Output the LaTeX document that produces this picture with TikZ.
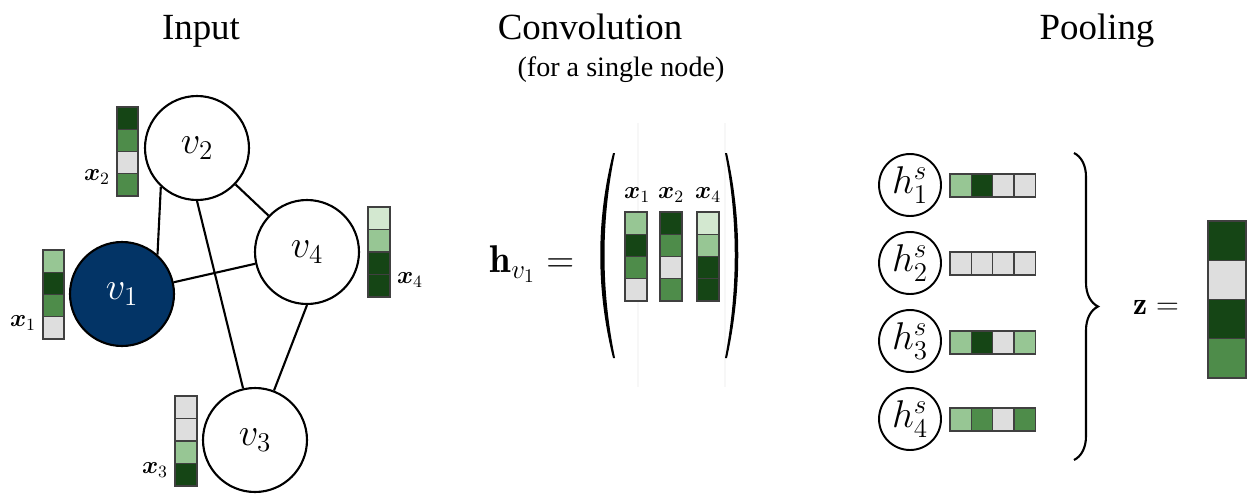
\RequirePackage{fix-cm}
\documentclass[tikz,border=0pt]{standalone}
\usepackage{amsmath}
\usepackage{fontspec}
\newfontfamily\titlefont{Liberation Serif}
\usetikzlibrary{decorations.pathreplacing}
\definecolor{dg}{HTML}{154515}
\definecolor{mg}{HTML}{4E8C4A}
\definecolor{lg}{HTML}{97C694}
\definecolor{vl}{HTML}{D3E8D0}
\definecolor{gr}{HTML}{DEDEDE}
\definecolor{navy}{HTML}{033466}
\newcommand\vvec[5]{%
  \foreach \c [count=\i from 0] in {#5} {
    \draw[cell, fill=\c] (#1,{#2+\i*#4}) rectangle ++(#3,#4);
  }}
\newcommand\hvec[5]{%
  \foreach \c [count=\i from 0] in {#5} {
    \draw[cell, fill=\c] ({#1+\i*#3},#2) rectangle ++(#3,#4);
  }}
\begin{document}
\begin{tikzpicture}[x=0.02cm,y=-0.02cm,
  cell/.style={draw=black!75, line width=0.8pt},
  vnode/.style={circle, draw, line width=1.2pt, minimum size=2.08cm, inner sep=0pt, font=\fontsize{22}{24}\selectfont},
  hnode/.style={circle, draw, line width=1.1pt, minimum size=1.24cm, inner sep=0pt, font=\fontsize{22}{24}\selectfont},
  edge/.style={line width=1.2pt},
  xlab/.style={inner sep=0pt, font=\fontsize{14}{16}\selectfont},
  title/.style={inner sep=0pt, anchor=base, font=\titlefont\fontsize{21}{24}\selectfont},
  eqlab/.style={inner sep=0pt, font=\fontsize{22}{26}\selectfont}]
\useasboundingbox (0,0) rectangle (1247,494);

% titles
\node[title] (tin) at (201,39) {Input};
\node[title] (tconv) at (590,39) {Convolution};
\node[title, font=\titlefont\fontsize{16}{18}\selectfont] (tsub) at (621,76) {(for a single node)};
\node[title] (tpool) at (1097,39) {Pooling};

% graph
\node[vnode, fill=navy, text=white] (v1) at (122,294) {$v_1$};
\node[vnode] (v2) at (197,148) {$v_2$};
\node[vnode] (v3) at (255,440) {$v_3$};
\node[vnode] (v4) at (307,252) {$v_4$};
\draw[edge] (v2.227) -- (v1.48);
\draw[edge] (v2.south) -- (v3.103);
\draw[edge] (v2) -- (v4);
\draw[edge] (v1) -- (v4);
\draw[edge] (v4.south) -- (v3.69);

\vvec{43}{250}{21}{22.25}{lg,dg,mg,gr}
\vvec{117}{107}{21}{22.25}{dg,mg,gr,mg}
\vvec{175}{396}{22}{22.5}{gr,gr,lg,dg}
\vvec{368}{207}{22}{22.5}{vl,lg,dg,dg}
\node[xlab] (lx1) at (23,323) {$\boldsymbol{x}_1$};
\node[xlab] (lx2) at (97,177) {$\boldsymbol{x}_2$};
\node[xlab] (lx3) at (155,470) {$\boldsymbol{x}_3$};
\node[xlab] (lx4) at (410,280) {$\boldsymbol{x}_4$};

% convolution
\node[eqlab] (hv) at (532,264) {$\mathbf{h}_{v_1} =$};
\draw[black!3, line width=0.6pt] (638,123) -- (638,387);
\draw[black!3, line width=0.6pt] (725,123) -- (725,387);
\fill[black] (613,153) .. controls (596,220) and (596,290) .. (613,358)
  -- (615,358) .. controls (601,290) and (601,220) .. (615,153) -- cycle;
\fill[black] (727,153) .. controls (742,220) and (742,290) .. (727,358)
  -- (725,358) .. controls (738,290) and (738,220) .. (725,153) -- cycle;
\vvec{625}{212}{22}{22.25}{lg,dg,mg,gr}
\vvec{660}{212}{22}{22.25}{dg,mg,gr,mg}
\vvec{697}{212}{22}{22.25}{vl,lg,dg,dg}
\node[xlab] (cx1) at (637,195) {$\boldsymbol{x}_1$};
\node[xlab] (cx2) at (671,195) {$\boldsymbol{x}_2$};
\node[xlab] (cx4) at (708,195) {$\boldsymbol{x}_4$};

% pooling
\node[hnode] (h1) at (910,185) {$h_1^s$};
\node[hnode] (h2) at (910,263) {$h_2^s$};
\node[hnode] (h3) at (910,341) {$h_3^s$};
\node[hnode] (h4) at (910,419) {$h_4^s$};
\hvec{950}{174}{21.3}{23}{lg,dg,gr,gr}
\hvec{950}{252}{21.3}{23}{gr,gr,gr,gr}
\hvec{950}{331}{21.3}{23}{lg,dg,gr,lg}
\hvec{950}{408}{21.3}{23}{lg,mg,gr,mg}
\coordinate (bt) at (1074,153);
\coordinate (bb) at (1074,460);
\draw[line width=1.2pt, decorate, decoration={brace, amplitude=0.48cm}] (bt) -- (bb);
\node[eqlab, font=\fontsize{18}{22}\selectfont] (zeq) at (1156,307) {$\mathbf{z} =$};
\vvec{1208}{221}{38}{39.25}{dg,gr,dg,mg}
\end{tikzpicture}
\end{document}
